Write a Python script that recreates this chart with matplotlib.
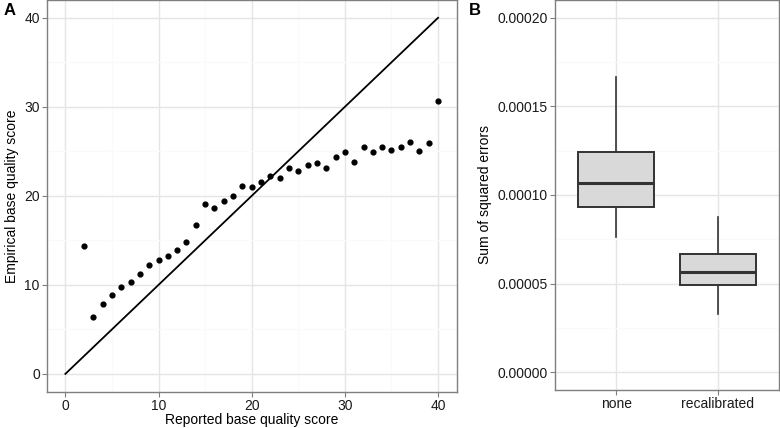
import matplotlib
matplotlib.use("Agg")
import matplotlib.pyplot as plt
import numpy as np

plt.rcParams['font.family'] = ['Liberation Sans', 'DejaVu Sans']

# Panel A data
reported = [2, 3, 4, 5, 6, 7, 8, 9, 10, 11, 12, 13, 14, 15, 16, 17, 18, 19, 20, 21,
            22, 23, 24, 25, 26, 27, 28, 29, 30, 31, 32, 33, 34, 35, 36, 37, 38, 39, 40]
empirical = [14.42, 6.37, 7.9, 8.88, 9.78, 10.37, 11.27, 12.25, 12.81, 13.26, 13.9, 14.87,
             16.78, 19.14, 18.69, 19.4, 19.93, 21.09, 21.05, 21.61, 22.28, 21.95, 23.15,
             22.81, 23.41, 23.67, 23.18, 24.38, 24.98, 23.78, 25.54, 24.94, 25.54, 25.17,
             25.54, 26.03, 25.02, 25.96, 30.6]
identity = [0, 40]

# Panel B data
groups = ["none", "recalibrated"]
whislo = [0.0000762, 0.0000328]
q1 = [0.0000931, 0.0000494]
med = [0.0001069, 0.0000566]
q3 = [0.0001245, 0.0000667]
whishi = [0.0001667, 0.0000876]

fig = plt.figure(figsize=(7.8, 4.28), dpi=100)

border = '#7f7f7f'
gridmaj = '#e5e5e5'
gridmin = '#fafafa'
tickcol = '#7f7f7f'

def style(ax):
    for s in ax.spines.values():
        s.set_color(border)
        s.set_linewidth(1.0)
    ax.tick_params(axis='both', which='major', color=tickcol, length=3.5, width=0.8,
                   labelsize=10, labelcolor='#1a1a1a', pad=1.5)
    ax.tick_params(axis='both', which='minor', length=0)
    ax.grid(True, which='major', color=gridmaj, linewidth=1.0)
    ax.grid(True, which='minor', color=gridmin, linewidth=0.8)
    ax.set_axisbelow(True)

axA = fig.add_axes([0.0599, 0.0848, 0.5256, 0.9152])
style(axA)
axA.plot(identity, identity, color='black', linewidth=1.3)
axA.scatter(reported, empirical, s=12, color='black', zorder=3)
axA.set_xlim(-2, 42)
axA.set_ylim(-2, 42)
axA.set_xticks([0, 10, 20, 30, 40])
axA.set_yticks([0, 10, 20, 30, 40])
axA.set_xticks([5, 15, 25, 35], minor=True)
axA.set_yticks([5, 15, 25, 35], minor=True)
axA.set_xlabel("Reported base quality score", fontsize=10, labelpad=0)
axA.set_ylabel("Empirical base quality score", fontsize=10, labelpad=4)
fig.text(0.004, 0.975, "A", fontsize=12, fontweight='bold', va='center', ha='left')

axB = fig.add_axes([0.7115, 0.0888, 0.2872, 0.9112])
style(axB)
stats = []
for i, g in enumerate(groups):
    stats.append(dict(label=g, whislo=whislo[i], q1=q1[i], med=med[i], q3=q3[i],
                      whishi=whishi[i], fliers=[]))
axB.bxp(stats, positions=[1, 2], widths=0.75, patch_artist=True, showcaps=False,
        boxprops=dict(facecolor='#d9d9d9', edgecolor='#333333', linewidth=1.4),
        medianprops=dict(color='#333333', linewidth=2.2),
        whiskerprops=dict(color='#333333', linewidth=1.2))
axB.set_xlim(0.4, 2.6)
axB.set_ylim(-0.00001, 0.00021)
yt = [0.0, 0.00005, 0.0001, 0.00015, 0.0002]
axB.set_yticks(yt)
axB.set_yticklabels(["%.5f" % v for v in yt])
axB.set_yticks([0.000025, 0.000075, 0.000125, 0.000175], minor=True)
axB.set_xticks([1, 2])
axB.set_xticklabels(groups)
axB.xaxis.grid(True, which='major', color=gridmaj, linewidth=1.0)
axB.set_ylabel("Sum of squared errors", fontsize=10, labelpad=4)
fig.text(0.601, 0.975, "B", fontsize=12, fontweight='bold', va='center', ha='left')

fig.savefig("out.png", dpi=100)
